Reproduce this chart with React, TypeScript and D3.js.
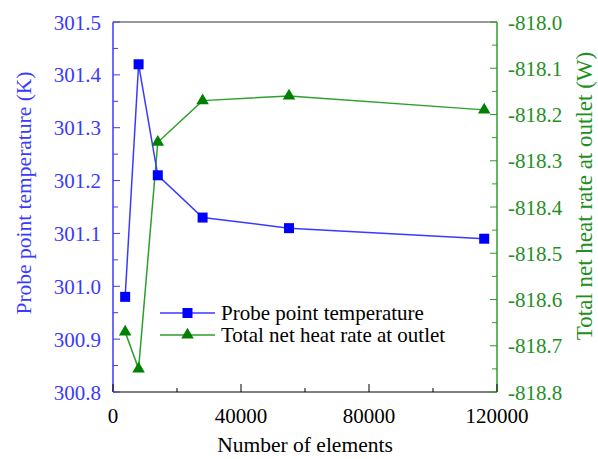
import React from "react";
import * as d3 from "d3";

const elements = [3800, 8000, 14000, 28000, 55000, 116000];
const probeTemp = [300.98, 301.42, 301.21, 301.13, 301.11, 301.09];
const heatRate = [-818.67, -818.75, -818.26, -818.17, -818.16, -818.19];
const xTicks = [0, 40000, 80000, 120000];
const leftTicks = [300.8, 300.9, 301.0, 301.1, 301.2, 301.3, 301.4, 301.5];
const rightTicks = [-818.8, -818.7, -818.6, -818.5, -818.4, -818.3, -818.2, -818.1, -818.0];
const seriesNames = ["Probe point temperature", "Total net heat rate at outlet"];

const W = 598, H = 459;
const L = 113, R = 497, T = 22, B = 392;
const BLUE = "#0000ff", BLUE_AX = "#3a3aff", GREEN = "#008000", GREEN_AX = "#2e9e2e", GREEN_TXT = "#1f8f1f";
const FONT = '"Liberation Serif", "DejaVu Serif", "Times New Roman", serif';
const fs = (size: number) => ({ fontFamily: FONT, fontSize: size });

export default function App() {
  const x = d3.scaleLinear().domain([0, 120000]).range([L, R]);
  const yL = d3.scaleLinear().domain([300.8, 301.5]).range([B, T]);
  const yR = d3.scaleLinear().domain([-818.8, -818.0]).range([B, T]);
  const lineL = d3.line<number>().x((_, i) => x(elements[i])).y((d) => yL(d));
  const lineR = d3.line<number>().x((_, i) => x(elements[i])).y((d) => yR(d));
  const tri = d3.symbol().type(d3.symbolTriangle).size(68)();
  const xMinor = d3.range(20000, 120000, 40000);
  const lMinor = d3.range(0, 7).map((i) => 300.85 + i * 0.1);
  const rMinor = d3.range(0, 8).map((i) => -818.75 + i * 0.1);
  const legY = [313, 335];
  const sq = 10;
  return (
    <svg width={W} height={H} style={{ position: "absolute", left: 0, top: 0, background: "#fff", fontFamily: FONT }}>
      {/* frame */}
      <line x1={L} x2={R} y1={T} y2={T} stroke="#777" strokeWidth={1.5} />
      <line x1={L} x2={R} y1={B} y2={B} stroke="#000" strokeWidth={1.2} />
      <line x1={L} x2={L} y1={T} y2={B} stroke={BLUE_AX} strokeWidth={1.5} />
      <line x1={R} x2={R} y1={T} y2={B} stroke={GREEN_AX} strokeWidth={1.5} />
      {/* x ticks */}
      {xTicks.map((t) => (
        <g key={"x" + t}>
          <line x1={x(t)} x2={x(t)} y1={B} y2={B - 8} stroke="#000" strokeWidth={1} />
          <text x={x(t)} y={423} textAnchor="middle" style={fs(21)} fill="#000">{t}</text>
        </g>
      ))}
      {xMinor.map((t) => (
        <line key={"xm" + t} x1={x(t)} x2={x(t)} y1={B} y2={B - 4} stroke="#000" strokeWidth={1} />
      ))}
      {/* left ticks */}
      {leftTicks.map((t) => (
        <g key={"l" + t}>
          <line x1={L} x2={L + 7} y1={yL(t)} y2={yL(t)} stroke={BLUE_AX} strokeWidth={1} />
          <text x={L - 12} y={yL(t) + 7.5} textAnchor="end" style={fs(21)} fill={BLUE_AX}>{t.toFixed(1)}</text>
        </g>
      ))}
      {lMinor.map((t) => (
        <line key={"lm" + t} x1={L} x2={L + 5} y1={yL(t)} y2={yL(t)} stroke={BLUE_AX} strokeWidth={1} />
      ))}
      {/* right ticks */}
      {rightTicks.map((t) => (
        <g key={"r" + t}>
          <line x1={R} x2={R - 7} y1={yR(t)} y2={yR(t)} stroke={GREEN_AX} strokeWidth={1} />
          <text x={R + 11} y={yR(t) + 7.5} textAnchor="start" style={fs(21)} fill={GREEN_TXT}>{t.toFixed(1)}</text>
        </g>
      ))}
      {rMinor.map((t) => (
        <line key={"rm" + t} x1={R} x2={R - 5} y1={yR(t)} y2={yR(t)} stroke={GREEN_AX} strokeWidth={1} />
      ))}
      {/* axis titles */}
      <text x={(L + R) / 2} y={452} textAnchor="middle" style={fs(21.5)} fill="#000">Number of elements</text>
      <text transform="translate(31,193) rotate(-90)" textAnchor="middle" style={fs(21.5)} fill={BLUE_AX}>Probe point temperature (K)</text>
      <text transform="translate(592,196) rotate(-90)" textAnchor="middle" style={fs(23)} fill={GREEN_TXT}>Total net heat rate at outlet (W)</text>
      {/* series */}
      <path d={lineR(heatRate) || ""} fill="none" stroke={GREEN_AX} strokeWidth={1.5} />
      <path d={lineL(probeTemp) || ""} fill="none" stroke={BLUE_AX} strokeWidth={1.5} />
      {probeTemp.map((v, i) => (
        <rect key={"s" + i} x={x(elements[i]) - sq / 2} y={yL(v) - sq / 2} width={sq} height={sq} fill={BLUE} />
      ))}
      {heatRate.map((v, i) => (
        <path key={"t" + i} d={tri || ""} transform={`translate(${x(elements[i])},${yR(v)})`} fill={GREEN} />
      ))}
      {/* legend */}
      <line x1={160} x2={215} y1={legY[0]} y2={legY[0]} stroke={BLUE_AX} strokeWidth={1.5} />
      <rect x={187.5 - sq / 2} y={legY[0] - sq / 2} width={sq} height={sq} fill={BLUE} />
      <text x={221} y={legY[0] + 7} style={fs(21)} fill="#000">{seriesNames[0]}</text>
      <line x1={160} x2={215} y1={legY[1]} y2={legY[1]} stroke={GREEN_AX} strokeWidth={1.5} />
      <path d={tri || ""} transform={`translate(187.5,${legY[1]})`} fill={GREEN} />
      <text x={221} y={legY[1] + 7} style={fs(21)} fill="#000">{seriesNames[1]}</text>
    </svg>
  );
}
